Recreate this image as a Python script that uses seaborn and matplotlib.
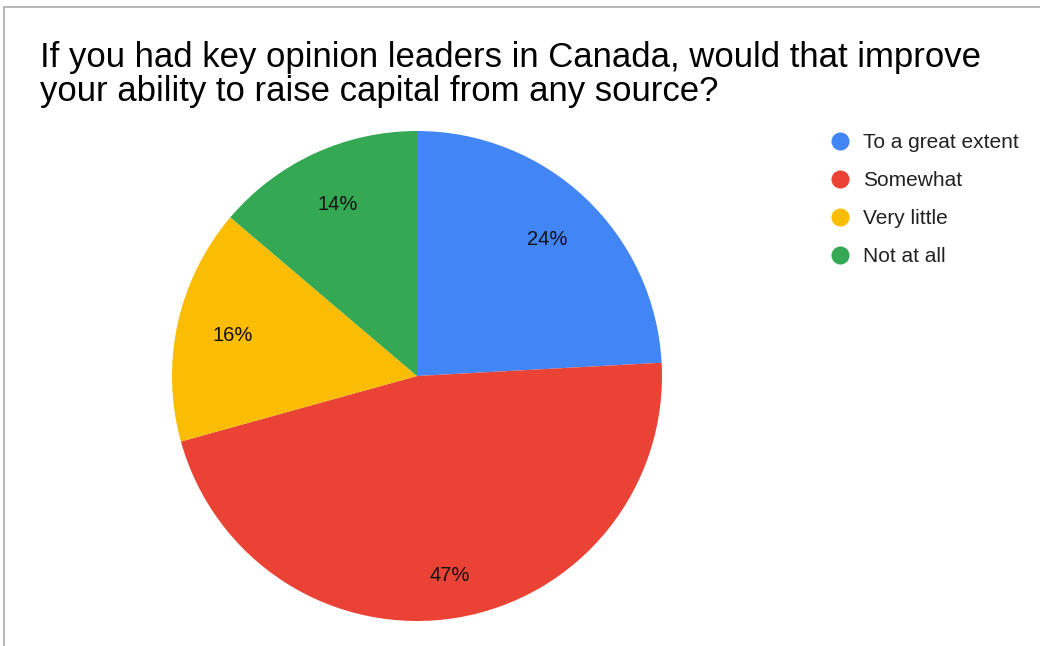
import matplotlib
matplotlib.use("Agg")
import matplotlib.pyplot as plt
from matplotlib.lines import Line2D
import seaborn as sns

# Survey responses (counts)
categories = ["To a great extent", "Somewhat", "Very little", "Not at all"]
counts = [14, 27, 9, 8]
colors = ["#4285F4", "#EA4335", "#FBBC04", "#34A853"]
title = "If you had key opinion leaders in Canada, would that improve\nyour ability to raise capital from any source?"

sns.set_theme(style="white")
plt.rcParams["font.family"] = ["Liberation Sans", "DejaVu Sans"]
palette = sns.color_palette(colors)

W, H = 1040, 646
fig = plt.figure(figsize=(W / 100, H / 100), dpi=100)
fig.patch.set_facecolor("white")

# pie axes: centre (417, 376) px, radius 245 px
cx, cy, r = 417, 376, 245
ax = fig.add_axes([(cx - r) / W, (H - cy - r) / H, 2 * r / W, 2 * r / H])

wedges, texts, autotexts = ax.pie(
    counts,
    colors=palette,
    startangle=90,
    counterclock=False,
    radius=1.0,
    autopct=lambda p: f"{p:.0f}%",
    pctdistance=0.77,
    wedgeprops=dict(linewidth=0),
    textprops=dict(fontsize=14.5, color="#111111"),
)
# push the label of the large slice a little further out
x, y = autotexts[1].get_position()
autotexts[1].set_position((x * 1.07, y * 1.07))

ax.set_xlim(-1, 1)
ax.set_ylim(-1, 1)
ax.set_aspect("equal")
ax.axis("off")

# title
line1, line2 = title.split("\n")
fig.text(40 / W, 1 - 67 / H, line1, ha="left", va="baseline", fontsize=25, color="#000000")
fig.text(40 / W, 1 - 101 / H, line2, ha="left", va="baseline", fontsize=25, color="#000000")

# legend with round markers
handles = [Line2D([0], [0], marker="o", linestyle="none", markersize=13,
                  markerfacecolor=c, markeredgewidth=0) for c in palette]
leg = fig.legend(handles, categories, loc="upper left",
                 bbox_to_anchor=(827 / W, 1 - 133 / H), frameon=False,
                 fontsize=15, handletextpad=0.55, labelspacing=0.91,
                 borderpad=0, borderaxespad=0, handlelength=1.2)
for t in leg.get_texts():
    t.set_color("#222222")

# card border on left and top edges
fig.add_artist(Line2D([3.5 / W, 3.5 / W], [0, 1 - 7 / H], transform=fig.transFigure,
                      color="#aaaaaa", linewidth=1.2))
fig.add_artist(Line2D([3.5 / W, 1], [1 - 7 / H, 1 - 7 / H], transform=fig.transFigure,
                      color="#aaaaaa", linewidth=1.2))

fig.savefig("out.png", dpi=100, facecolor="white")
